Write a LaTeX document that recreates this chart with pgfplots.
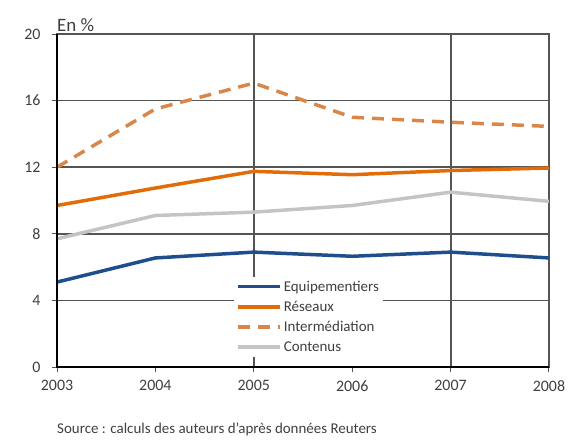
\documentclass[border=0pt]{standalone}
\usepackage{fontspec}
\setmainfont{Carlito}
\setsansfont{Carlito}
\usepackage{pgfplots}
\pgfplotsset{compat=1.18}

\definecolor{txt}{HTML}{3F3F3F}
\definecolor{gridc}{HTML}{555555}
\definecolor{equip}{HTML}{1F4E8C}
\definecolor{reseau}{HTML}{E36C0A}
\definecolor{inter}{HTML}{D9864A}
\definecolor{contenu}{HTML}{C4C4C4}

\begin{document}
\begin{tikzpicture}
  % fixed page: 571 x 446 bp, axis box at (0,0)-(492,333)
  \path[use as bounding box] (-57bp,-79bp) rectangle (514bp,367bp);
  \begin{axis}[
    scale only axis,
    width=492bp, height=333bp,
    xmin=2003, xmax=2008,
    ymin=0, ymax=20,
    xtick={2003,2004,...,2008},
    ytick={0,4,...,20},
    xmajorgrids=false,
    ymajorgrids,
    major grid style={draw=gridc, line width=1.8pt},
    axis line style={draw=gridc, line width=1.8pt},
    tick style={draw=gridc, line width=1pt},
    major tick length=5bp,
    tick align=outside,
    xtick pos=bottom, ytick pos=left,
    x tick label style={/pgf/number format/1000 sep={}},
    ticklabel style={font=\fontsize{16}{18}\selectfont, text=txt},
    /pgf/number format/assume math mode=true,
    xticklabel style={yshift=-5bp},
    yticklabel style={xshift=-8bp},
    legend style={
      at={(0.36,0.03)}, anchor=south west,
      draw=none, fill=white,
      font=\fontsize{15}{17}\selectfont, text=txt,
      row sep=4.5bp, inner sep=2bp,
      nodes={inner sep=2bp},
    },
    legend cell align=left,
    legend image code/.code={
      \draw[#1] (0bp,0bp) -- (42bp,0bp);
    },
    clip=false,
  ]
    \draw[gridc, line width=1.8pt] (axis cs:2005,0) -- (axis cs:2005,20);
    \draw[gridc, line width=1.8pt] (axis cs:2007,0) -- (axis cs:2007,20);
    \addplot[equip, line width=3.5pt] coordinates {
      (2003,5.1) (2004,6.55) (2005,6.9) (2006,6.65) (2007,6.9) (2008,6.55)
    };
    \addlegendentry{Equipementiers}
    \addplot[reseau, line width=3.5pt] coordinates {
      (2003,9.7) (2004,10.75) (2005,11.75) (2006,11.55) (2007,11.8) (2008,11.95)
    };
    \addlegendentry{Réseaux}
    \addplot[inter, line width=3.5pt, dash pattern=on 12bp off 8bp] coordinates {
      (2003,12.0) (2004,15.5) (2005,17.05) (2006,15.0) (2007,14.7) (2008,14.45)
    };
    \addlegendentry{Intermédiation}
    \addplot[contenu, line width=3.5pt] coordinates {
      (2003,7.7) (2004,9.1) (2005,9.3) (2006,9.7) (2007,10.5) (2008,9.95)
    };
    \addlegendentry{Contenus}
    \draw[black, line width=3pt] (rel axis cs:0,1) -- (rel axis cs:0,0) -- (rel axis cs:1,0);
    \node[anchor=south west, font=\fontsize{19}{21}\selectfont, text=txt, inner sep=0pt]
      at ([yshift=2bp]rel axis cs:0,1) {En \%};
    \node[anchor=base west, font=\fontsize{15}{17}\selectfont, text=txt, inner sep=0pt]
      at ([yshift=-66bp]rel axis cs:0,0) {Source : calculs des auteurs d'après données Reuters};
  \end{axis}
\end{tikzpicture}
\end{document}
